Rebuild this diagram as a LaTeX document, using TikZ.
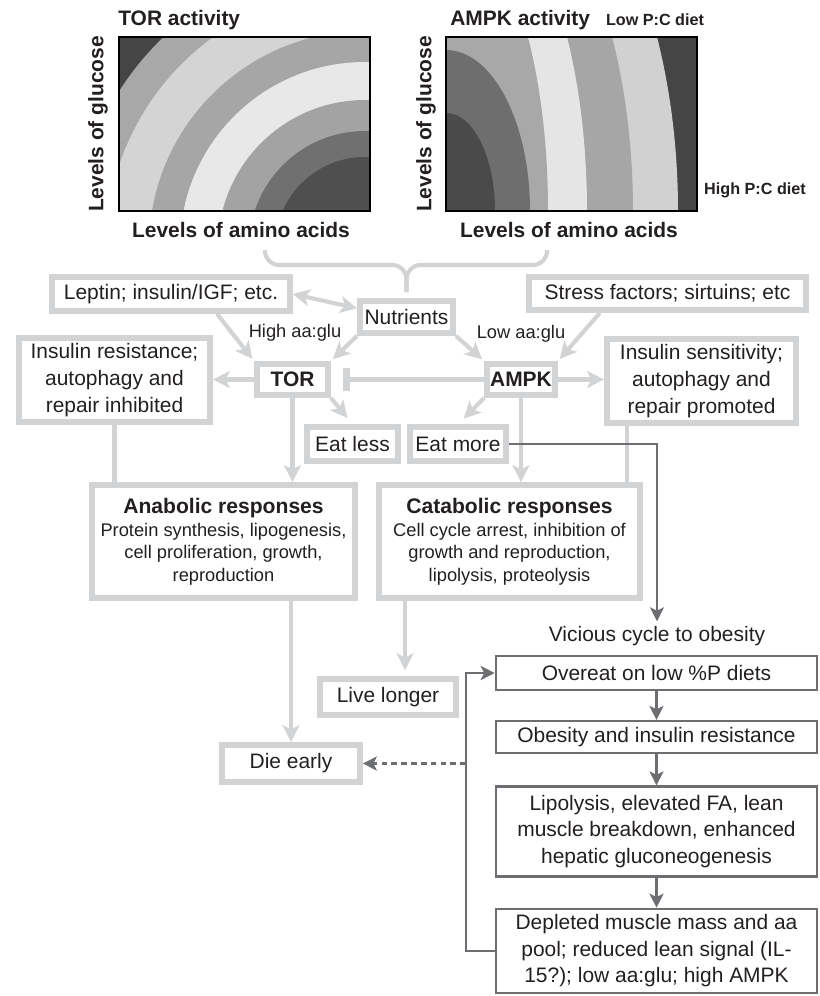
\documentclass[tikz,border=0pt]{standalone}
\usepackage{fontspec}
\setmainfont{Liberation Sans}
\usetikzlibrary{arrows.meta, positioning}
\definecolor{boxgray}{HTML}{D1D3D4}
\definecolor{cyclegray}{HTML}{6D6E71}
\definecolor{inkgray}{HTML}{231F20}

\begin{document}
\begin{tikzpicture}[x=0.025cm, y=-0.025cm, font=\fontsize{14.9}{18.9}\selectfont, text=inkgray]
        \tikzset{
        block/.style    = {draw=boxgray, line width=4pt, rectangle, align=center, inner sep=2pt},
        cycblock/.style = {draw=cyclegray, line width=1.6pt, rectangle, align=center, inner sep=2pt, minimum width=8.03cm},
        line/.style     = {draw=boxgray, line width=2.9pt, >={Stealth[length=12pt, width=12pt, inset=3pt]}, ->},
        cycline/.style  = {draw=cyclegray, line width=1.6pt, >={Stealth[length=10pt, width=10pt, inset=2.5pt]}, ->},
        maptitle/.style = {font=\fontsize{14.9}{18}\selectfont\bfseries, inner sep=0pt},
        small/.style    = {font=\fontsize{13}{16}\selectfont}
        }
        \useasboundingbox (0,0) rectangle (820,996);

        % TOR activity map
        \begin{scope}
        \clip (119,37) rectangle (370,211);
        \fill[black!73] (119,37) rectangle (370,211);
        \fill[black!34] (365,247) circle [radius=291];
        \fill[black!17] (365,247) circle [radius=259];
        \fill[black!35] (365,247) circle [radius=216];
        \fill[black!9]  (365,247) circle [radius=185];
        \fill[black!36] (365,247) circle [radius=147];
        \fill[black!56] (365,247) circle [radius=116];
        \fill[black!69] (365,247) circle [radius=90];
        \end{scope}
        \draw[line width=1.6pt] (119,37) rectangle (370,211);

        % AMPK activity map
        \begin{scope}
        \clip (446,37) rectangle (697,211);
        \fill[black!73] (446,37) rectangle (697,211);
        \fill[black!18] (446,211) ellipse [x radius=232, y radius=418];
        \fill[black!35] (446,211) ellipse [x radius=187, y radius=378];
        \fill[black!10] (446,211) ellipse [x radius=141, y radius=339];
        \fill[black!34] (446,211) ellipse [x radius=102, y radius=292];
        \fill[black!57] (446,211) ellipse [x radius=84, y radius=161];
        \fill[black!71] (446,211) ellipse [x radius=49, y radius=98];
        \end{scope}
        \draw[line width=1.6pt] (446,37) rectangle (697,211);

        % Map labels
        \node[maptitle, anchor=west] (tortitle) at (118,20) {TOR activity};
        \node[maptitle, rotate=90] (torylab) at (98,124) {Levels of glucose};
        \node[maptitle] (torxlab) at (241,230) {Levels of amino acids};
        \node[maptitle, anchor=west] (ampktitle) at (450,20) {AMPK activity};
        \node[maptitle, font=\fontsize{11.5}{13}\selectfont\bfseries] (lowpc) at (655,20) {Low P:C diet};
        \node[maptitle, font=\fontsize{11.5}{13}\selectfont\bfseries] (highpc) at (755,190) {High P:C diet};
        \node[maptitle, rotate=90] (ampkylab) at (426,124) {Levels of glucose};
        \node[maptitle] (ampkxlab) at (569,230) {Levels of amino acids};

        % Signals and sensors
        \node[block, minimum width=5.95cm, minimum height=0.85cm] (lep) at (171,294) {Leptin; insulin/IGF; etc.};
        \node[block, minimum width=2.33cm, minimum height=0.8cm] (nut) at (406.5,317) {Nutrients};
        \node[block, minimum width=6.93cm, minimum height=0.83cm] (str) at (667.5,293.5) {Stress factors; sirtuins; etc};
        \node[small] (highaa) at (295,333) {High aa:glu};
        \node[small] (lowaa) at (521,334) {Low aa:glu};
        \node[block, minimum width=4.78cm, minimum height=2.1cm] (ires) at (114.5,380) {Insulin resistance;\\autophagy and\\repair inhibited};
        \node[block, minimum width=1.78cm, minimum height=0.78cm, font=\fontsize{14.9}{18.9}\selectfont\bfseries] (tor) at (292.5,379.5) {TOR};
        \node[block, minimum width=1.7cm, minimum height=0.78cm, font=\fontsize{14.9}{18.9}\selectfont\bfseries] (ampk) at (521,379.5) {AMPK};
        \node[block, minimum width=4.73cm, minimum height=2.1cm] (isen) at (701.5,381) {Insulin sensitivity;\\autophagy and\\repair promoted};
        \node[block, minimum width=2.28cm, minimum height=0.85cm] (eless) at (352.5,444) {Eat less};
        \node[block, minimum width=2.4cm, minimum height=0.85cm] (emore) at (458,444) {Eat more};

        % Responses and outcomes
        \node[block, small, minimum width=6.58cm, minimum height=2.83cm] (ana) at (223.5,541.5)
            {{\fontsize{15}{16}\selectfont\bfseries Anabolic responses}\\Protein synthesis, lipogenesis,\\cell proliferation, growth,\\reproduction};
        \node[block, small, minimum width=6.53cm, minimum height=2.83cm] (cat) at (509.5,541.5)
            {{\fontsize{15}{16}\selectfont\bfseries Catabolic responses}\\Cell cycle arrest, inhibition of\\growth and reproduction,\\lipolysis, proteolysis};
        \node[block, minimum width=3.4cm, minimum height=0.9cm] (live) at (388,697) {Live longer};
        \node[block, minimum width=3.45cm, minimum height=0.93cm] (die) at (291,763.5) {Die early};

        % Vicious cycle
        \node (vic) at (657,636) {Vicious cycle to obesity};
        \node[cycblock, minimum height=0.85cm] (over) at (656.5,673) {Overeat on low \%P diets};
        \node[cycblock, minimum height=0.8cm, below=0.72cm of over] (obes) {Obesity and insulin resistance};
        \node[cycblock, minimum height=2.25cm, below=0.78cm of obes] (lipo) {Lipolysis, elevated FA, lean\\muscle breakdown, enhanced\\hepatic gluconeogenesis};
        \node[cycblock, minimum height=2.1cm, below=0.75cm of lipo] (depl) {Depleted muscle mass and aa\\pool; reduced lean signal (IL-\\15?); low aa:glu; high AMPK};

        % Connections
        \coordinate (bl) at (265,250);
        \coordinate (br) at (547,250);
        \draw[boxgray, line width=2.9pt, rounded corners=10pt, shorten >=0.15cm] (bl) -- ++(0,15) -| (nut.north);
        \draw[boxgray, line width=2.9pt, rounded corners=10pt, shorten >=0.15cm] (br) -- ++(0,15) -| (nut.north);
        \draw[line, <->] (lep.east) -- (nut.170);
        \draw[line, shorten >=2pt] ([xshift=1.15cm]lep.south) -- (tor.north west);
        \draw[line, shorten >=2pt] (nut.south west) -- (tor.north east);
        \draw[line, shorten >=2pt] (nut.south east) -- (ampk.north west);
        \draw[line, shorten >=2pt] ([xshift=-1.69cm]str.south) -- (ampk.north east);
        \draw[line] (tor.west) -- (tor.west -| ires.east);
        \draw[line] (ampk.east) -- (ampk.east -| isen.west);
        \draw[line, -{Rectangle[length=5pt, width=17pt]}, shorten >=0.3cm] (ampk.west) -- (ampk.west -| tor.east);
        \draw[line, shorten >=0.2cm] (tor.south east) -- (eless.north);
        \draw[line, shorten >=0.2cm] (ampk.south west) -- (emore.north);
        \draw[line] (tor.south) -- (tor.south |- ana.north);
        \draw[line] (ampk.south) -- (ampk.south |- cat.north);
        \draw[boxgray, line width=2.9pt] (ires.south) -- (ires.south |- ana.north);
        \coordinate (isenfoot) at ([xshift=-1.86cm]isen.south);
        \draw[boxgray, line width=2.9pt] (isenfoot) -- (isenfoot |- cat.north);
        \draw[line] (die.north |- ana.south) -- (die.north);
        \coordinate (catfoot) at ([xshift=-2.61cm]cat.south);
        \draw[line, shorten >=0.15cm] (catfoot) -- (catfoot |- live.north);

        % Cycle links
        \draw[cycline] (emore.east) -| (vic.north);
        \draw[cycline] (over) -- (obes);
        \draw[cycline] (obes) -- (lipo);
        \draw[cycline] (lipo) -- (depl);
        \coordinate (lp) at ([xshift=-0.72cm]depl.west);
        \draw[cycline] (depl.west) -- (lp) |- (over.west);
        \draw[cycline, dash pattern=on 4pt off 3pt] (lp |- die.east) -- (die.east);
    \end{tikzpicture}
\end{document}
